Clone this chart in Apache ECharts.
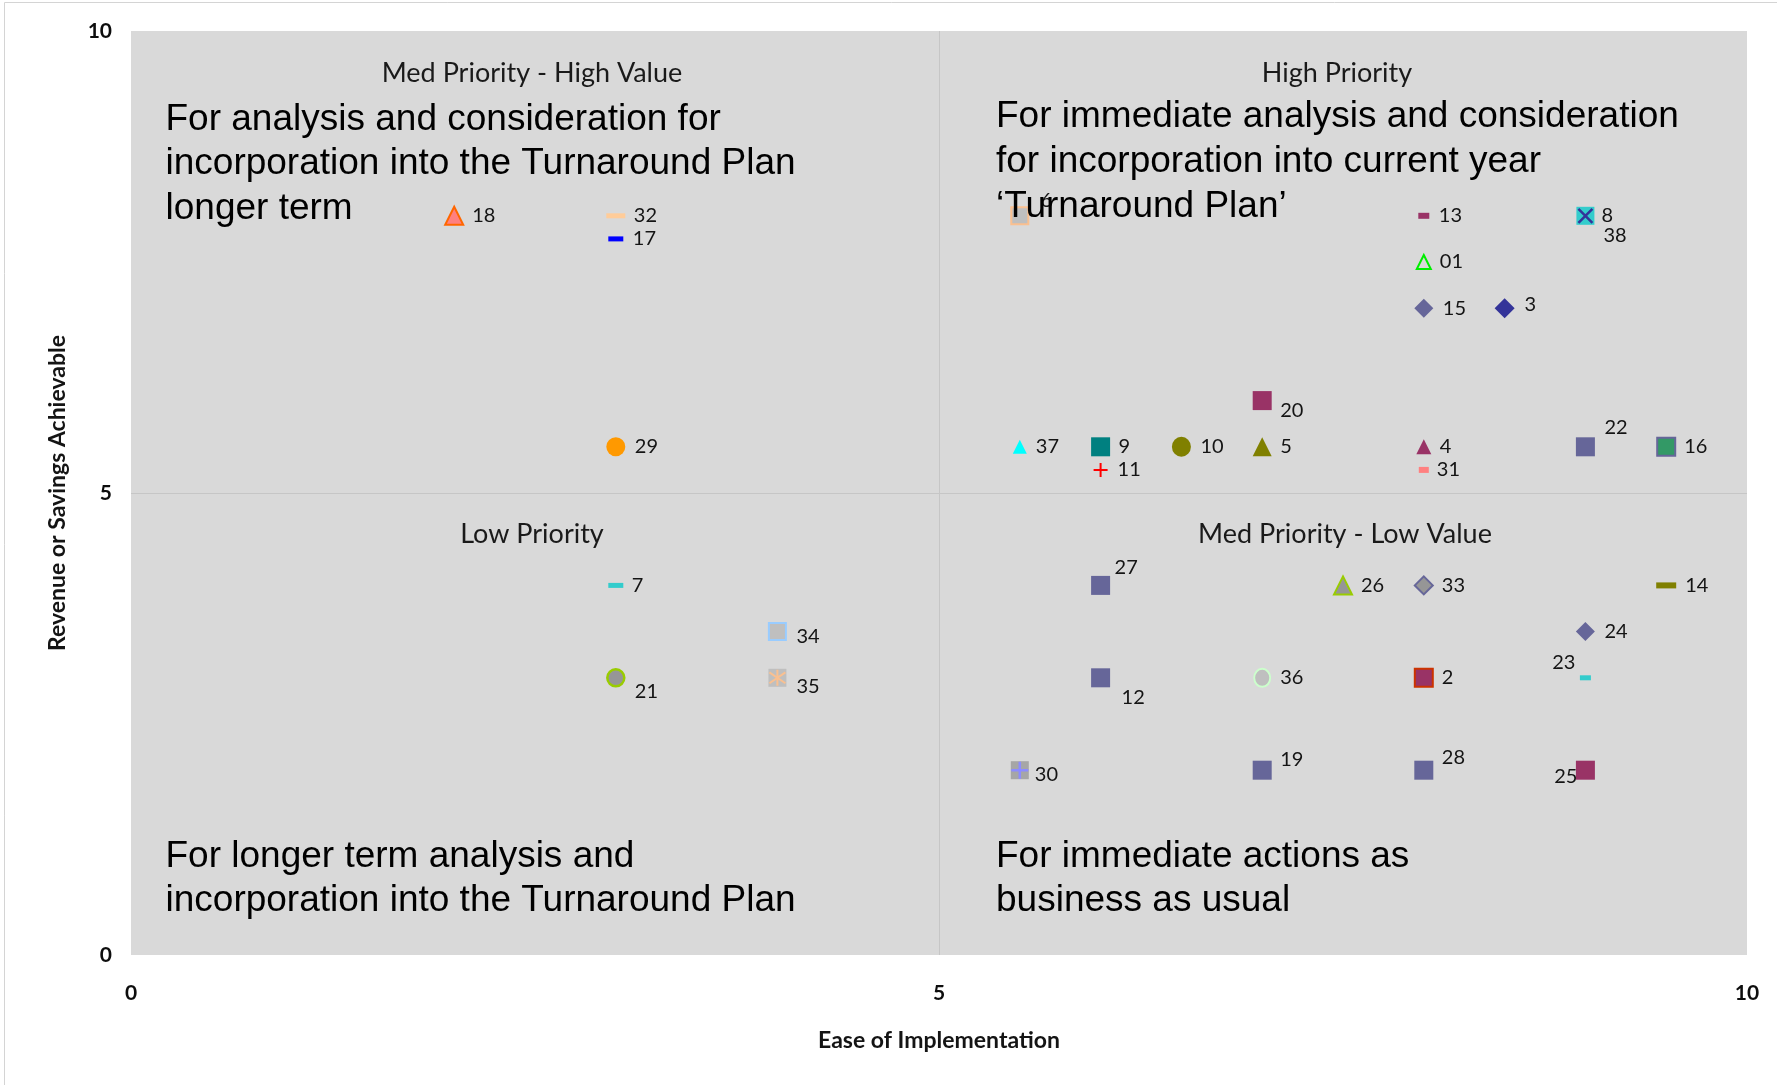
<!DOCTYPE html>
<html>
<head>
<meta charset="utf-8">
<title>Priority Matrix</title>
<script src="https://cdn.jsdelivr.net/npm/echarts@6.0.0/dist/echarts.min.js"></script>
<style>
  html, body { margin: 0; padding: 0; background: #ffffff; }
  #chart { width: 1777px; height: 1085px; }
</style>
</head>
<body>
<div id="chart"></div>
<script>
// Initiative reference numbers
const ids = ['01', '2', '3', '4', '5', '6', '7', '8', '9', '10',
             '11', '12', '13', '14', '15', '16', '17', '18', '19', '20',
             '21', '22', '23', '24', '25', '26', '27', '28', '29', '30',
             '31', '32', '33', '34', '35', '36', '37', '38'];

// Ease of Implementation score (x)
const ease = [8, 8, 8.5, 8, 7, 5.5, 3, 9, 6, 6.5,
              6, 6, 8, 9.5, 8, 9.5, 3, 2, 7, 7,
              3, 9, 9, 9, 9, 7.5, 6, 8, 3, 5.5,
              8, 3, 8, 4, 4, 7, 5.5, 9];

// Revenue or Savings Achievable score (y)
const revenue = [7.5, 3, 7, 5.5, 5.5, 8, 4, 8, 5.5, 5.5,
                 5.25, 3, 8, 4, 7, 5.5, 7.75, 8, 2, 6,
                 3, 5.5, 3, 3.5, 2, 4, 4, 2, 5.5, 2,
                 5.25, 8, 4, 3.5, 3, 3, 5.5, 8];

// Axis range and tick spacing
const axisMin = 0;
const axisMax = 10;
const tickStep = 5;

// Quadrant headings and descriptions
const quadrantTitles = ['Med Priority - High Value', 'High Priority', 'Low Priority', 'Med Priority - Low Value'];
const quadrantNotes = [
  'For analysis and consideration for\nincorporation into the Turnaround Plan\nlonger term',
  'For immediate analysis and consideration\nfor incorporation into current year\n\u2018Turnaround Plan\u2019',
  'For longer term analysis and\nincorporation into the Turnaround Plan',
  'For immediate actions as\nbusiness as usual'
];

// ---- marker glyphs ----
const CROSS_X = 'path://M0,0L10,10M10,0L0,10';
const PLUS = 'path://M5,0L5,10M0,5L10,5';
const ASTERISK = 'path://M5,0L5,10M0.8,1.6L9.2,8.4M0.8,8.4L9.2,1.6';

// marker look per initiative: shape, size, fill, outline
const markerStyle = {
  '01': { shape: 'triangle', size: 14, fill: 'transparent', stroke: '#00ee00', sw: 2 },
  '2':  { shape: 'rect', size: 18, fill: '#993366', stroke: '#cc3300', sw: 2 },
  '3':  { shape: 'diamond', size: 20, fill: '#333399' },
  '4':  { shape: 'triangle', size: 15, fill: '#993366' },
  '5':  { shape: 'triangle', size: 19, fill: '#808000' },
  '6':  { shape: 'rect', size: 17, fill: '#bfbfbf', stroke: '#fac090', sw: 2 },
  '7':  { shape: 'rect', size: [15, 5], fill: '#33cccc' },
  '8':  { shape: 'rect', size: 18, fill: '#33cccc' },
  '9':  { shape: 'rect', size: 19, fill: '#008080' },
  '10': { shape: 'circle', size: [19, 20], fill: '#808000' },
  '11': { shape: PLUS, size: 14, fill: 'transparent', stroke: '#ff0000', sw: 2 },
  '12': { shape: 'rect', size: 19, fill: '#666699' },
  '13': { shape: 'rect', size: [11, 6], fill: '#993366' },
  '14': { shape: 'rect', size: [20, 6], fill: '#808000' },
  '15': { shape: 'diamond', size: 19, fill: '#666699' },
  '16': { shape: 'rect', size: 18, fill: '#339966', stroke: '#666699', sw: 2 },
  '17': { shape: 'rect', size: [15, 5], fill: '#0000ff' },
  '18': { shape: 'triangle', size: 18, fill: '#ff8080', stroke: '#ff6600', sw: 2 },
  '19': { shape: 'rect', size: 19, fill: '#666699' },
  '20': { shape: 'rect', size: 19, fill: '#993366' },
  '21': { shape: 'circle', size: 17, fill: '#969696', stroke: '#99cc00', sw: 2.5 },
  '22': { shape: 'rect', size: 19, fill: '#666699' },
  '23': { shape: 'rect', size: [11, 5], fill: '#33cccc' },
  '24': { shape: 'diamond', size: 19, fill: '#666699' },
  '25': { shape: 'rect', size: 19, fill: '#993366' },
  '26': { shape: 'triangle', size: 18, fill: '#969696', stroke: '#99cc00', sw: 2 },
  '27': { shape: 'rect', size: 19, fill: '#666699' },
  '28': { shape: 'rect', size: 19, fill: '#666699' },
  '29': { shape: 'circle', size: 19, fill: '#ff9900' },
  '30': { shape: 'rect', size: 18, fill: '#a6a6a6' },
  '31': { shape: 'rect', size: [10, 6], fill: '#ff8080' },
  '32': { shape: 'rect', size: [19, 5], fill: '#ffcc99' },
  '33': { shape: 'diamond', size: 18, fill: '#969696', stroke: '#666699', sw: 2 },
  '34': { shape: 'rect', size: 17, fill: '#bfbfbf', stroke: '#99ccff', sw: 2 },
  '35': { shape: 'rect', size: 18, fill: '#bfbfbf' },
  '36': { shape: 'circle', size: [16, 18], fill: '#bfbfbf', stroke: '#ccffcc', sw: 2 },
  '37': { shape: 'triangle', size: 14, fill: '#00ffff' },
  '38': { shape: CROSS_X, size: 14, fill: 'transparent', stroke: '#333399', sw: 2.5 }
};

// extra glyphs drawn on top of some square markers
const markerOverlay = {
  '30': { shape: PLUS, size: 17, stroke: '#8c8cff', sw: 2.5 },
  '35': { shape: ASTERISK, size: 16, stroke: '#fac090', sw: 2 }
};

// where each number label sits relative to its marker centre
const labelPlacement = {
  '01': [16, 0], '2': [18, 0], '3': [20, -4], '4': [16, 0], '5': [18, 0],
  '6': [21, -15], '7': [16, 0], '8': [16, 0], '9': [18, 0], '10': [19, 0],
  '11': [17, 0], '12': [21, 20], '13': [15, 0], '14': [19, 0], '15': [19, 0],
  '16': [18, 0], '17': [17, 0], '18': [18, 0], '19': [18, -11], '20': [18, 10],
  '21': [19, 14], '22': [19, -19], '23': [-10, -15, 'right'], '24': [19, 0], '25': [-8, 6, 'right'],
  '26': [18, 0], '27': [14, -18], '28': [18, -13], '29': [19, 0], '30': [15, 4],
  '31': [13, 0], '32': [18, 0], '33': [18, 0], '34': [19, 5], '35': [19, 9],
  '36': [18, 0], '37': [16, 0], '38': [18, 20]
};

const LABEL_FONT = 'Lato';
const TEXT_DARK = '#141414';

const points = ids.map((id, i) => {
  const m = markerStyle[id];
  const p = labelPlacement[id];
  return {
    name: id,
    value: [ease[i], revenue[i]],
    symbol: m.shape,
    symbolSize: m.size,
    itemStyle: {
      color: m.fill,
      opacity: 1,
      borderColor: m.stroke || m.fill,
      borderWidth: m.stroke ? m.sw : 0
    },
    label: {
      show: true,
      position: 'inside',
      align: p[2] || 'left',
      verticalAlign: 'middle',
      offset: [p[0], p[1]],
      formatter: '{b}',
      fontFamily: LABEL_FONT,
      fontSize: 20,
      color: TEXT_DARK,
      textBorderWidth: 0
    }
  };
});

const overlays = ids.map((id, i) => ({ id, i })).filter(o => markerOverlay[o.id]).map(o => {
  const g = markerOverlay[o.id];
  return {
    name: o.id,
    value: [ease[o.i], revenue[o.i]],
    symbol: g.shape,
    symbolSize: g.size,
    itemStyle: { color: 'transparent', opacity: 1, borderColor: g.stroke, borderWidth: g.sw }
  };
});

const chart = echarts.init(document.getElementById('chart'), null, { renderer: 'canvas' });

const noteFont = '37px "Liberation Sans", Arial, sans-serif';
const titleFont = '27px Lato, sans-serif';

function noteText(text, x, y, lh) {
  return {
    type: 'text', x, y, z: 100,
    style: { text, font: noteFont, fill: '#000000', align: 'left', verticalAlign: 'top', lineHeight: lh }
  };
}
function titleText(text, x, y) {
  return {
    type: 'text', x, y, z: 100,
    style: { text, font: titleFont, fill: '#1a1a1a', align: 'center', verticalAlign: 'middle' }
  };
}

const option = {
  backgroundColor: '#ffffff',
  animation: false,
  grid: {
    left: 131, right: 30, top: 31, bottom: 130,
    show: true, backgroundColor: '#d9d9d9', borderWidth: 0
  },
  xAxis: {
    type: 'value', min: axisMin, max: axisMax, interval: tickStep,
    name: 'Ease of Implementation', nameLocation: 'middle', nameGap: 74,
    nameTextStyle: { fontFamily: LABEL_FONT, fontWeight: 'bold', fontSize: 23, color: TEXT_DARK },
    axisLine: { show: false }, axisTick: { show: false },
    axisLabel: { fontFamily: LABEL_FONT, fontWeight: 'bold', fontSize: 21, color: '#0d0d0d', margin: 28 },
    splitLine: { show: true, showMinLine: false, showMaxLine: false, lineStyle: { color: '#c6c6c6', width: 1 } }
  },
  yAxis: {
    type: 'value', min: axisMin, max: axisMax, interval: tickStep,
    name: 'Revenue or Savings Achievable', nameLocation: 'middle', nameGap: 62, nameRotate: 90,
    nameTextStyle: { fontFamily: LABEL_FONT, fontWeight: 'bold', fontSize: 23, color: TEXT_DARK },
    axisLine: { show: false }, axisTick: { show: false },
    axisLabel: { fontFamily: LABEL_FONT, fontWeight: 'bold', fontSize: 21, color: '#0d0d0d', margin: 19 },
    splitLine: { show: true, showMinLine: false, showMaxLine: false, lineStyle: { color: '#c6c6c6', width: 1 } }
  },
  graphic: [
    { type: 'rect', z: -10, shape: { x: 4.5, y: 2.5, width: 1800, height: 1100 },
      style: { fill: 'transparent', stroke: '#d4d4d4', lineWidth: 1 } },
    titleText(quadrantTitles[0], 532, 73),
    titleText(quadrantTitles[1], 1337, 73),
    titleText(quadrantTitles[2], 532, 534),
    titleText(quadrantTitles[3], 1345, 534),
    noteText(quadrantNotes[0], 165.5, 97, 44.8),
    noteText(quadrantNotes[1], 996, 94.5, 44.8),
    noteText(quadrantNotes[2], 165.5, 835, 44),
    noteText(quadrantNotes[3], 996, 835, 44)
  ],
  series: [
    {
      type: 'scatter', name: 'Initiatives', z: 2,
      data: points,
      emphasis: { disabled: true }
    },
    {
      type: 'scatter', name: 'Marker detail', z: 3,
      data: overlays,
      label: { show: false },
      emphasis: { disabled: true }
    }
  ]
};

chart.setOption(option);
</script>
</body>
</html>
